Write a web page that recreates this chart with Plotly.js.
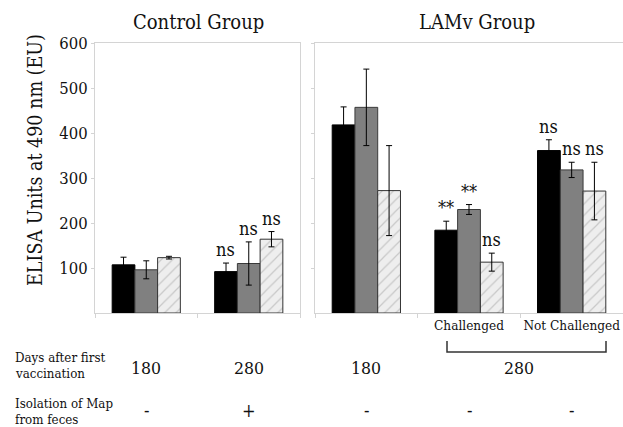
<!DOCTYPE html>
<html>
<head>
<meta charset="utf-8">
<script src="https://cdn.plot.ly/plotly-3.0.1.min.js"></script>
<style>html,body{margin:0;padding:0;background:#fff;}#chart{width:623px;height:427px;}</style>
</head>
<body>
<div id="chart"></div>
<script>
// ---- data ----
const controlCats = ['180', '280'];
const lamvCats = ['180 ', 'Challenged', 'Not Challenged'];
const lamvTickText = ['', 'Challenged', 'Not Challenged'];
const seriesNames = ['Series 1', 'Series 2', 'Series 3'];

const controlBlack = [107, 92];
const controlBlackErr = [17, 19];
const controlGray = [96, 110];
const controlGrayErr = [20, 48];
const controlLight = [123, 164];
const controlLightErr = [3, 17];

const lamvBlack = [418, 184, 361];
const lamvBlackErr = [40, 20, 24];
const lamvGray = [457, 230, 318];
const lamvGrayErr = [85, 11, 17];
const lamvLight = [272, 113, 271];
const lamvLightErr = [100, 20, 64];

const controlBlackSig = ['', 'ns'];
const controlGraySig = ['', 'ns'];
const controlLightSig = ['', 'ns'];
const lamvBlackSig = ['', '**', 'ns'];
const lamvGraySig = ['', '**', 'ns'];
const lamvLightSig = ['', 'ns', 'ns'];

const yTicks = [100, 200, 300, 400, 500, 600];
const daysLabels = ['180', '280', '180', '280'];
const isolationLabels = ['-', '+', '-', '-', '-'];
const yTitle = 'ELISA Units at 490 nm (EU)';

// ---- styles ----
const FONT = 'DejaVu Serif Condensed, DejaVu Serif';
const TXT = '#111';
const H = 427, W = 623;
const py = (px) => (H - px) / H;
const px = (v) => v / W;
const styles = [
  {color: '#000000', line: {color: '#000000', width: 1}},
  {color: '#808080', line: {color: '#3a3a3a', width: 1}},
  {color: '#ececec', line: {color: '#333333', width: 1},
   pattern: {shape: '/', fgcolor: '#c8c8c8', bgcolor: '#eeeeee', size: 8, solidity: 0.15, fillmode: 'replace'}}
];
const errStyle = (arr) => ({type: 'data', array: arr, visible: true, color: '#000', thickness: 1, width: 3});

function bar(x, y, err, i, xa, ya) {
  return {type: 'bar', x: x, y: y, name: seriesNames[i], marker: styles[i],
          error_y: errStyle(err), xaxis: xa, yaxis: ya, showlegend: false, hoverinfo: 'skip'};
}

const data = [
  bar(controlCats, controlBlack, controlBlackErr, 0, 'x', 'y'),
  bar(controlCats, controlGray, controlGrayErr, 1, 'x', 'y'),
  bar(controlCats, controlLight, controlLightErr, 2, 'x', 'y'),
  bar(lamvCats, lamvBlack, lamvBlackErr, 0, 'x2', 'y2'),
  bar(lamvCats, lamvGray, lamvGrayErr, 1, 'x2', 'y2'),
  bar(lamvCats, lamvLight, lamvLightErr, 2, 'x2', 'y2')
];

const annotations = [];
const BW = 22.8;
function sig(cats, vals, errs, labels, idx, xa, ya) {
  cats.forEach((c, k) => {
    if (!labels[k]) return;
    annotations.push({xref: xa, yref: ya, x: k, y: vals[k] + errs[k], text: labels[k],
      showarrow: false, xanchor: 'center', yanchor: 'bottom', xshift: (idx - 1) * BW, yshift: 1,
      font: {family: FONT, size: 18, color: TXT}});
  });
}
sig(controlCats, controlBlack, controlBlackErr, controlBlackSig, 0, 'x', 'y');
sig(controlCats, controlGray, controlGrayErr, controlGraySig, 1, 'x', 'y');
sig(controlCats, controlLight, controlLightErr, controlLightSig, 2, 'x', 'y');
sig(lamvCats, lamvBlack, lamvBlackErr, lamvBlackSig, 0, 'x2', 'y2');
sig(lamvCats, lamvGray, lamvGrayErr, lamvGraySig, 1, 'x2', 'y2');
sig(lamvCats, lamvLight, lamvLightErr, lamvLightSig, 2, 'x2', 'y2');

annotations.push({xref: 'paper', yref: 'paper', x: px(198), y: py(22), text: 'Control Group', showarrow: false,
  xanchor: 'center', yanchor: 'middle', font: {family: FONT, size: 20, color: TXT}});
annotations.push({xref: 'paper', yref: 'paper', x: px(477), y: py(22), text: 'LAMv Group', showarrow: false,
  xanchor: 'center', yanchor: 'middle', font: {family: FONT, size: 20, color: TXT}});
annotations.push({xref: 'paper', yref: 'paper', x: px(35), y: py(160), text: yTitle, textangle: -90, showarrow: false,
  xanchor: 'center', yanchor: 'middle', font: {family: FONT, size: 19.5, color: TXT}});

const rowFont = {family: FONT, size: 13.2, color: TXT};
[['Days after first', 357], ['vaccination', 373], ['Isolation of Map', 403], ['from feces', 419.5]].forEach(r => {
  annotations.push({xref: 'paper', yref: 'paper', x: px(13), y: py(r[1]), text: r[0], showarrow: false,
    xanchor: 'left', yanchor: 'middle', font: rowFont});
});

const dayRefs = [['x', 0, 0], ['x', 1, 0], ['x2', 0, 0], ['x2', 1, 50]];
daysLabels.forEach((t, i) => {
  annotations.push({xref: dayRefs[i][0], yref: 'paper', x: dayRefs[i][1], xshift: dayRefs[i][2], y: py(368), text: t,
    showarrow: false, xanchor: 'center', yanchor: 'middle', font: {family: FONT, size: 17.5, color: TXT}});
});
const isoRefs = [['x', 0], ['x', 1], ['x2', 0], ['x2', 1], ['x2', 2]];
isolationLabels.forEach((t, i) => {
  annotations.push({xref: isoRefs[i][0], yref: 'paper', x: isoRefs[i][1], y: py(410), text: t,
    showarrow: false, xanchor: 'center', yanchor: 'middle', font: {family: FONT, size: 18, color: TXT}});
});

const gridC = '#d4d4d4';
const layout = {
  width: W, height: H,
  margin: {l: 0, r: 0, t: 0, b: 0},
  paper_bgcolor: '#fff', plot_bgcolor: '#fff',
  barmode: 'group', bargap: 0.335, bargroupgap: 0,
  showlegend: false,
  font: {family: FONT, color: TXT},
  xaxis: {domain: [px(95), px(300)], anchor: 'y', type: 'category', range: [-0.5, 1.5], autorange: false,
    showline: true, linecolor: gridC, linewidth: 1,
    mirror: true, ticks: 'outside', tickson: 'boundaries', ticklen: 4, tickcolor: gridC, showticklabels: false,
    showgrid: false, zeroline: false},
  yaxis: {domain: [py(313), py(43)], anchor: 'x', range: [0, 600], autorange: false, tickvals: yTicks, ticktext: yTicks.map(String),
    showline: true, linecolor: gridC, linewidth: 1, mirror: true, ticks: 'outside', ticklen: 3, tickcolor: gridC,
    tickfont: {family: FONT, size: 16.5, color: TXT}, showgrid: false, zeroline: false},
  xaxis2: {domain: [px(315), 1], anchor: 'y2', type: 'category', range: [-0.5, 2.5], autorange: false,
    showline: true, linecolor: gridC, linewidth: 1,
    mirror: true, ticks: 'outside', tickson: 'boundaries', ticklen: 4, tickcolor: gridC, tickangle: 0,
    tickvals: lamvCats, ticktext: lamvTickText, tickfont: {family: FONT, size: 13.5, color: TXT},
    showgrid: false, zeroline: false},
  yaxis2: {domain: [py(313), py(43)], anchor: 'x2', range: [0, 600], autorange: false, tickvals: yTicks, showticklabels: false,
    showline: true, linecolor: gridC, linewidth: 1, ticks: 'outside', ticklen: 3, tickcolor: gridC,
    showgrid: false, zeroline: false},
  annotations: annotations,
  shapes: [{type: 'path', xref: 'paper', yref: 'paper',
    path: `M ${px(447)},${py(341)} L ${px(447)},${py(352)} L ${px(606)},${py(352)} L ${px(606)},${py(341)}`,
    line: {color: '#333', width: 1.5}}]
};

Plotly.newPlot('chart', data, layout, {staticPlot: true, displayModeBar: false});
</script>
</body>
</html>
